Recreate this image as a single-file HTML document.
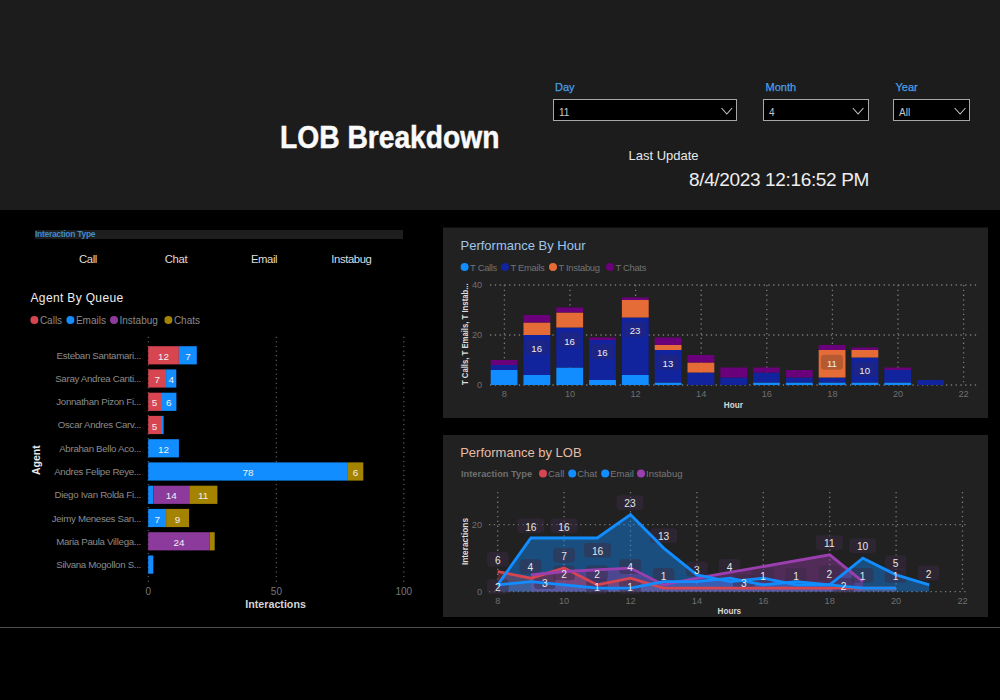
<!DOCTYPE html>
<html><head><meta charset="utf-8">
<style>
html,body{margin:0;padding:0;width:1000px;height:700px;overflow:hidden;background:#000;font-family:"Liberation Sans", sans-serif;}
.abs{position:absolute;white-space:nowrap;}
#hdr{position:absolute;left:0;top:0;width:1000px;height:210px;background:#1c1c1c;}
.dd{position:absolute;top:99px;height:20px;border:1px solid #a8a8a8;background:#000;}
.dd span{position:absolute;left:5px;top:6.5px;font-size:10px;color:#c8c8c8;}
.lbl{position:absolute;top:81px;font-size:11px;color:#4a9fe6;-webkit-text-stroke:0.25px #4a9fe6;}
svg{position:absolute;left:0;top:0;}
</style></head><body>
<div id="hdr"></div>
<div class="abs" style="left:280px;top:119.5px;font-size:31px;font-weight:bold;color:#fafafa;transform:scaleX(0.91);transform-origin:0 0;-webkit-text-stroke:0.5px #fafafa;">LOB Breakdown</div>
<div class="lbl" style="left:555px;">Day</div>
<div class="lbl" style="left:765.5px;">Month</div>
<div class="lbl" style="left:895.5px;">Year</div>
<div class="dd" style="left:553px;width:182px;"><span>11</span></div>
<div class="dd" style="left:763px;width:104px;"><span>4</span></div>
<div class="dd" style="left:893px;width:75px;"><span>All</span></div>
<div class="abs" style="left:628.5px;top:148px;font-size:13px;color:#e8e8e8;">Last Update</div>
<div class="abs" style="left:689px;top:169px;font-size:19px;letter-spacing:-0.35px;color:#eeeeee;">8/4/2023 12:16:52 PM</div>
<div class="abs" style="left:35px;top:230px;width:368px;height:8.6px;background:#1e1e1e;"></div>
<div class="abs" style="left:35px;top:228.5px;font-size:8.5px;font-weight:bold;letter-spacing:-0.3px;color:#3d8ad0;">Interaction Type</div>
<div class="abs" style="left:0;top:253px;width:88px;"></div>
<svg width="1000" height="700" viewBox="0 0 1000 700" font-family='"Liberation Sans", sans-serif'>
<g fill="none" stroke="#c8c8c8" stroke-width="1.05">
<polyline points="721.5,108 726.8,114 732.1,108"/>
<polyline points="852.8,108 858.1,114 863.4,108"/>
<polyline points="954.7,108 960.1,114 965.5,108"/>
</g>
<g fill="#dddddd" font-size="11.3" letter-spacing="-0.4" text-anchor="middle">
<text x="88" y="263">Call</text><text x="176" y="263">Chat</text><text x="264" y="263">Email</text><text x="351.4" y="263">Instabug</text>
</g>
<rect x="443" y="227.5" width="545" height="190.5" fill="#212121"/>
<rect x="443" y="435" width="545" height="182" fill="#212121"/>
<line x1="490" y1="385.0" x2="977" y2="385.0" stroke="#7a7a7a" stroke-width="1.3" stroke-dasharray="1.3 3.5"/>
<line x1="490" y1="335.0" x2="977" y2="335.0" stroke="#7a7a7a" stroke-width="1.3" stroke-dasharray="1.3 3.5"/>
<line x1="490" y1="285.0" x2="977" y2="285.0" stroke="#7a7a7a" stroke-width="1.3" stroke-dasharray="1.3 3.5"/>
<line x1="504.4" y1="285" x2="504.4" y2="385" stroke="#7a7a7a" stroke-width="1.3" stroke-dasharray="1.3 3.5"/>
<line x1="570.0" y1="285" x2="570.0" y2="385" stroke="#7a7a7a" stroke-width="1.3" stroke-dasharray="1.3 3.5"/>
<line x1="635.5999999999999" y1="285" x2="635.5999999999999" y2="385" stroke="#7a7a7a" stroke-width="1.3" stroke-dasharray="1.3 3.5"/>
<line x1="701.1999999999999" y1="285" x2="701.1999999999999" y2="385" stroke="#7a7a7a" stroke-width="1.3" stroke-dasharray="1.3 3.5"/>
<line x1="766.8" y1="285" x2="766.8" y2="385" stroke="#7a7a7a" stroke-width="1.3" stroke-dasharray="1.3 3.5"/>
<line x1="832.4" y1="285" x2="832.4" y2="385" stroke="#7a7a7a" stroke-width="1.3" stroke-dasharray="1.3 3.5"/>
<line x1="898.0" y1="285" x2="898.0" y2="385" stroke="#7a7a7a" stroke-width="1.3" stroke-dasharray="1.3 3.5"/>
<line x1="963.5999999999999" y1="285" x2="963.5999999999999" y2="385" stroke="#7a7a7a" stroke-width="1.3" stroke-dasharray="1.3 3.5"/>
<rect x="490.7" y="370.0" width="26.8" height="15.0" fill="#118DFF"/>
<rect x="490.7" y="365.0" width="26.8" height="5.0" fill="#12239E"/>
<rect x="490.7" y="360.0" width="26.8" height="5.0" fill="#6B007B"/>
<rect x="523.5" y="375.0" width="26.8" height="10.0" fill="#118DFF"/>
<rect x="523.5" y="335.0" width="26.8" height="40.0" fill="#12239E"/>
<rect x="523.5" y="322.5" width="26.8" height="12.5" fill="#E66C37"/>
<rect x="523.5" y="315.0" width="26.8" height="7.5" fill="#6B007B"/>
<rect x="556.3" y="367.5" width="26.8" height="17.5" fill="#118DFF"/>
<rect x="556.3" y="327.5" width="26.8" height="40.0" fill="#12239E"/>
<rect x="556.3" y="312.5" width="26.8" height="15.0" fill="#E66C37"/>
<rect x="556.3" y="307.5" width="26.8" height="5.0" fill="#6B007B"/>
<rect x="589.1" y="380.0" width="26.8" height="5.0" fill="#118DFF"/>
<rect x="589.1" y="340.0" width="26.8" height="40.0" fill="#12239E"/>
<rect x="589.1" y="337.5" width="26.8" height="2.5" fill="#6B007B"/>
<rect x="621.9" y="375.0" width="26.8" height="10.0" fill="#118DFF"/>
<rect x="621.9" y="317.5" width="26.8" height="57.5" fill="#12239E"/>
<rect x="621.9" y="300.0" width="26.8" height="17.5" fill="#E66C37"/>
<rect x="621.9" y="297.5" width="26.8" height="2.5" fill="#6B007B"/>
<rect x="654.7" y="382.5" width="26.8" height="2.5" fill="#118DFF"/>
<rect x="654.7" y="350.0" width="26.8" height="32.5" fill="#12239E"/>
<rect x="654.7" y="345.0" width="26.8" height="5.0" fill="#E66C37"/>
<rect x="654.7" y="337.5" width="26.8" height="7.5" fill="#6B007B"/>
<rect x="687.5" y="372.5" width="26.8" height="12.5" fill="#12239E"/>
<rect x="687.5" y="362.5" width="26.8" height="10.0" fill="#E66C37"/>
<rect x="687.5" y="355.0" width="26.8" height="7.5" fill="#6B007B"/>
<rect x="720.3" y="377.5" width="26.8" height="7.5" fill="#12239E"/>
<rect x="720.3" y="367.5" width="26.8" height="10.0" fill="#6B007B"/>
<rect x="753.1" y="382.5" width="26.8" height="2.5" fill="#118DFF"/>
<rect x="753.1" y="372.5" width="26.8" height="10.0" fill="#12239E"/>
<rect x="753.1" y="367.5" width="26.8" height="5.0" fill="#6B007B"/>
<rect x="785.9" y="382.5" width="26.8" height="2.5" fill="#118DFF"/>
<rect x="785.9" y="377.5" width="26.8" height="5.0" fill="#12239E"/>
<rect x="785.9" y="370.0" width="26.8" height="7.5" fill="#6B007B"/>
<rect x="818.7" y="382.5" width="26.8" height="2.5" fill="#118DFF"/>
<rect x="818.7" y="377.5" width="26.8" height="5.0" fill="#12239E"/>
<rect x="818.7" y="350.0" width="26.8" height="27.5" fill="#E66C37"/>
<rect x="818.7" y="345.0" width="26.8" height="5.0" fill="#6B007B"/>
<rect x="851.5" y="382.5" width="26.8" height="2.5" fill="#118DFF"/>
<rect x="851.5" y="357.5" width="26.8" height="25.0" fill="#12239E"/>
<rect x="851.5" y="350.0" width="26.8" height="7.5" fill="#E66C37"/>
<rect x="851.5" y="347.5" width="26.8" height="2.5" fill="#6B007B"/>
<rect x="884.3" y="382.5" width="26.8" height="2.5" fill="#118DFF"/>
<rect x="884.3" y="370.0" width="26.8" height="12.5" fill="#12239E"/>
<rect x="884.3" y="367.5" width="26.8" height="2.5" fill="#6B007B"/>
<rect x="917.1" y="380.0" width="26.8" height="5.0" fill="#12239E"/>
<rect x="525.7" y="339.7" width="22" height="15" rx="3.5" fill="#1c2485"/>
<text x="536.7" y="351.7" font-size="9.6" fill="#eeeeee" text-anchor="middle">16</text>
<rect x="558.5" y="332.5" width="22" height="15" rx="3.5" fill="#1c2485"/>
<text x="569.5" y="344.5" font-size="9.6" fill="#eeeeee" text-anchor="middle">16</text>
<rect x="591.3" y="344.3" width="22" height="15" rx="3.5" fill="#1c2485"/>
<text x="602.3" y="356.3" font-size="9.6" fill="#eeeeee" text-anchor="middle">16</text>
<rect x="624.1" y="321.9" width="22" height="15" rx="3.5" fill="#1c2485"/>
<text x="635.1" y="333.9" font-size="9.6" fill="#eeeeee" text-anchor="middle">23</text>
<rect x="656.9" y="354.7" width="22" height="15" rx="3.5" fill="#1c2485"/>
<text x="667.9" y="366.7" font-size="9.6" fill="#eeeeee" text-anchor="middle">13</text>
<rect x="820.9" y="354.7" width="22" height="15" rx="3.5" fill="#b55a30"/>
<text x="831.9" y="366.7" font-size="9.6" fill="#eeeeee" text-anchor="middle">11</text>
<rect x="853.7" y="361.9" width="22" height="15" rx="3.5" fill="#1c2485"/>
<text x="864.7" y="373.9" font-size="9.6" fill="#eeeeee" text-anchor="middle">10</text>
<text x="482.2" y="388.2" font-size="9.2" fill="#707070" text-anchor="end">0</text>
<text x="482.2" y="338.2" font-size="9.2" fill="#707070" text-anchor="end">20</text>
<text x="482.2" y="288.2" font-size="9.2" fill="#707070" text-anchor="end">40</text>
<text x="504.4" y="397.2" font-size="9.2" fill="#707070" text-anchor="middle">8</text>
<text x="570.0" y="397.2" font-size="9.2" fill="#707070" text-anchor="middle">10</text>
<text x="635.5999999999999" y="397.2" font-size="9.2" fill="#707070" text-anchor="middle">12</text>
<text x="701.1999999999999" y="397.2" font-size="9.2" fill="#707070" text-anchor="middle">14</text>
<text x="766.8" y="397.2" font-size="9.2" fill="#707070" text-anchor="middle">16</text>
<text x="832.4" y="397.2" font-size="9.2" fill="#707070" text-anchor="middle">18</text>
<text x="898.0" y="397.2" font-size="9.2" fill="#707070" text-anchor="middle">20</text>
<text x="963.5999999999999" y="397.2" font-size="9.2" fill="#707070" text-anchor="middle">22</text>
<text x="733.4" y="408" font-size="8.2" font-weight="bold" fill="#d8d8d8" text-anchor="middle">Hour</text>
<text transform="translate(468.2,334.2) rotate(-90) scale(0.86,1)" font-size="9" font-weight="bold" fill="#dddddd" text-anchor="middle">T Calls, T Emails, T Instab...</text>
<text x="460.5" y="250.2" font-size="13" fill="#9ec5ea">Performance By Hour</text>
<circle cx="464.6" cy="267" r="4" fill="#118DFF"/>
<text x="470.1" y="270.5" font-size="9.4" letter-spacing="-0.3" fill="#737373">T Calls</text>
<circle cx="505" cy="267" r="4" fill="#12239E"/>
<text x="510.5" y="270.5" font-size="9.4" letter-spacing="-0.3" fill="#737373">T Emails</text>
<circle cx="553" cy="267" r="4" fill="#E66C37"/>
<text x="558.5" y="270.5" font-size="9.4" letter-spacing="-0.3" fill="#737373">T Instabug</text>
<circle cx="610" cy="267" r="4" fill="#6B007B"/>
<text x="615.5" y="270.5" font-size="9.4" letter-spacing="-0.3" fill="#737373">T Chats</text>
<line x1="489" y1="591.6" x2="968" y2="591.6" stroke="#7a7a7a" stroke-width="1.3" stroke-dasharray="1.3 3.5"/>
<line x1="489" y1="524.6" x2="968" y2="524.6" stroke="#7a7a7a" stroke-width="1.3" stroke-dasharray="1.3 3.5"/>
<line x1="497.7" y1="492" x2="497.7" y2="591" stroke="#7a7a7a" stroke-width="1.3" stroke-dasharray="1.3 3.5"/>
<line x1="564.1" y1="492" x2="564.1" y2="591" stroke="#7a7a7a" stroke-width="1.3" stroke-dasharray="1.3 3.5"/>
<line x1="630.5" y1="492" x2="630.5" y2="591" stroke="#7a7a7a" stroke-width="1.3" stroke-dasharray="1.3 3.5"/>
<line x1="696.9" y1="492" x2="696.9" y2="591" stroke="#7a7a7a" stroke-width="1.3" stroke-dasharray="1.3 3.5"/>
<line x1="763.3" y1="492" x2="763.3" y2="591" stroke="#7a7a7a" stroke-width="1.3" stroke-dasharray="1.3 3.5"/>
<line x1="829.7" y1="492" x2="829.7" y2="591" stroke="#7a7a7a" stroke-width="1.3" stroke-dasharray="1.3 3.5"/>
<line x1="896.1" y1="492" x2="896.1" y2="591" stroke="#7a7a7a" stroke-width="1.3" stroke-dasharray="1.3 3.5"/>
<line x1="962.5" y1="492" x2="962.5" y2="591" stroke="#7a7a7a" stroke-width="1.3" stroke-dasharray="1.3 3.5"/>
<polygon points="497.7,591.6 497.7,584.9 530.9,538.0 564.1,538.0 597.3,538.0 630.5,514.6 663.7,548.1 696.9,574.9 730.1,581.6 763.3,578.2 796.5,584.9 829.7,584.9 862.9,558.1 896.1,574.9 929.3,584.9 929.3,591.6" fill="#118DFF" fill-opacity="0.42"/>
<polygon points="530.9,591.6 530.9,574.9 564.1,571.5 630.5,568.1 663.7,584.9 696.9,578.2 829.7,554.8 862.9,581.6 862.9,591.6" fill="#9B3FB0" fill-opacity="0.4"/>
<polygon points="497.7,591.6 497.7,571.5 530.9,578.2 564.1,568.1 597.3,584.9 630.5,578.2 663.7,588.2 696.9,588.2 730.1,588.2 763.3,588.2 796.5,588.2 829.7,588.2 862.9,588.2 896.1,588.2 896.1,591.6" fill="#D64550" fill-opacity="0.3"/>
<polygon points="497.7,591.6 497.7,584.9 530.9,581.6 564.1,584.9 597.3,588.2 630.5,588.2 663.7,581.6 696.9,581.6 730.1,578.2 763.3,584.9 796.5,581.6 829.7,584.9 862.9,588.2 896.1,588.2 896.1,591.6" fill="#118DFF" fill-opacity="0.3"/>
<rect x="487.1" y="552.0" width="21.6" height="14.7" rx="3.5" fill="#3a2a42" fill-opacity="0.5"/>
<rect x="519.6" y="559.2" width="21.6" height="14.7" rx="3.5" fill="#3a2a42" fill-opacity="0.5"/>
<rect x="553.2" y="548.0" width="21.6" height="14.7" rx="3.5" fill="#3a2a42" fill-opacity="0.5"/>
<rect x="553.2" y="565.6" width="21.6" height="14.7" rx="3.5" fill="#3a2a42" fill-opacity="0.5"/>
<rect x="586.2" y="565.6" width="21.6" height="14.7" rx="3.5" fill="#3a2a42" fill-opacity="0.5"/>
<rect x="584.1" y="542.9" width="27" height="14.7" rx="3.5" fill="#3a2a42" fill-opacity="0.5"/>
<rect x="619.2" y="559.2" width="21.6" height="14.7" rx="3.5" fill="#3a2a42" fill-opacity="0.5"/>
<rect x="619.2" y="579.2" width="21.6" height="14.7" rx="3.5" fill="#3a2a42" fill-opacity="0.5"/>
<rect x="586.2" y="579.2" width="21.6" height="14.7" rx="3.5" fill="#3a2a42" fill-opacity="0.5"/>
<rect x="517.3" y="518.4" width="27" height="14.7" rx="3.5" fill="#3a2a42" fill-opacity="0.5"/>
<rect x="550.5" y="518.4" width="27" height="14.7" rx="3.5" fill="#3a2a42" fill-opacity="0.5"/>
<rect x="616.5" y="495.2" width="27" height="14.7" rx="3.5" fill="#3a2a42" fill-opacity="0.5"/>
<rect x="650.1" y="528.3" width="27" height="14.7" rx="3.5" fill="#3a2a42" fill-opacity="0.5"/>
<rect x="652.8" y="568.0" width="21.6" height="14.7" rx="3.5" fill="#3a2a42" fill-opacity="0.5"/>
<rect x="686.1" y="561.6" width="21.6" height="14.7" rx="3.5" fill="#3a2a42" fill-opacity="0.5"/>
<rect x="718.7" y="558.9" width="21.6" height="14.7" rx="3.5" fill="#3a2a42" fill-opacity="0.5"/>
<rect x="733.1" y="574.4" width="21.6" height="14.7" rx="3.5" fill="#3a2a42" fill-opacity="0.5"/>
<rect x="752.3" y="568.0" width="21.6" height="14.7" rx="3.5" fill="#3a2a42" fill-opacity="0.5"/>
<rect x="785.2" y="568.0" width="21.6" height="14.7" rx="3.5" fill="#3a2a42" fill-opacity="0.5"/>
<rect x="815.9" y="535.2" width="27" height="14.7" rx="3.5" fill="#3a2a42" fill-opacity="0.5"/>
<rect x="818.6" y="565.6" width="21.6" height="14.7" rx="3.5" fill="#3a2a42" fill-opacity="0.5"/>
<rect x="849.1" y="538.2" width="27" height="14.7" rx="3.5" fill="#3a2a42" fill-opacity="0.5"/>
<rect x="851.8" y="568.0" width="21.6" height="14.7" rx="3.5" fill="#3a2a42" fill-opacity="0.5"/>
<rect x="884.8" y="555.2" width="21.6" height="14.7" rx="3.5" fill="#3a2a42" fill-opacity="0.5"/>
<rect x="884.8" y="568.0" width="21.6" height="14.7" rx="3.5" fill="#3a2a42" fill-opacity="0.5"/>
<rect x="917.8" y="565.6" width="21.6" height="14.7" rx="3.5" fill="#3a2a42" fill-opacity="0.5"/>
<rect x="832.8" y="578.0" width="21.6" height="14.7" rx="3.5" fill="#3a2a42" fill-opacity="0.5"/>
<rect x="487.1" y="579.2" width="21.6" height="14.7" rx="3.5" fill="#3a2a42" fill-opacity="0.5"/>
<rect x="534.0" y="574.4" width="21.6" height="14.7" rx="3.5" fill="#3a2a42" fill-opacity="0.5"/>
<polyline points="497.7,571.5 530.9,578.2 564.1,568.1 597.3,584.9 630.5,578.2 663.7,588.2 696.9,588.2 730.1,588.2 763.3,588.2 796.5,588.2 829.7,588.2 862.9,588.2 896.1,588.2" fill="none" stroke="#D64550" stroke-width="2.8" stroke-linejoin="miter"/>
<polyline points="530.9,574.9 564.1,571.5 630.5,568.1 663.7,584.9 696.9,578.2 829.7,554.8 862.9,581.6" fill="none" stroke="#9B3FB0" stroke-width="2.8" stroke-linejoin="miter"/>
<polyline points="497.7,584.9 530.9,581.6 564.1,584.9 597.3,588.2 630.5,588.2 663.7,581.6 696.9,581.6 730.1,578.2 763.3,584.9 796.5,581.6 829.7,584.9 862.9,588.2 896.1,588.2" fill="none" stroke="#118DFF" stroke-width="2.8" stroke-linejoin="miter"/>
<polyline points="497.7,584.9 530.9,538.0 564.1,538.0 597.3,538.0 630.5,514.6 663.7,548.1 696.9,574.9 730.1,581.6 763.3,578.2 796.5,584.9 829.7,584.9 862.9,558.1 896.1,574.9 929.3,584.9" fill="none" stroke="#118DFF" stroke-width="2.9" stroke-linejoin="miter"/>
<text x="497.9" y="564.1" font-size="10.2" fill="#e6e6e6" text-anchor="middle">6</text>
<text x="530.4" y="571.3" font-size="10.2" fill="#e6e6e6" text-anchor="middle">4</text>
<text x="564.0" y="560.1" font-size="10.2" fill="#e6e6e6" text-anchor="middle">7</text>
<text x="564.0" y="577.7" font-size="10.2" fill="#e6e6e6" text-anchor="middle">2</text>
<text x="597.0" y="577.7" font-size="10.2" fill="#e6e6e6" text-anchor="middle">2</text>
<text x="597.6" y="555.0" font-size="10.2" fill="#e6e6e6" text-anchor="middle">16</text>
<text x="630.0" y="571.3" font-size="10.2" fill="#e6e6e6" text-anchor="middle">4</text>
<text x="630.0" y="591.3" font-size="10.2" fill="#e6e6e6" text-anchor="middle">1</text>
<text x="597.0" y="591.3" font-size="10.2" fill="#e6e6e6" text-anchor="middle">1</text>
<text x="530.8" y="530.5" font-size="10.2" fill="#e6e6e6" text-anchor="middle">16</text>
<text x="564.0" y="530.5" font-size="10.2" fill="#e6e6e6" text-anchor="middle">16</text>
<text x="630.0" y="507.3" font-size="10.2" fill="#e6e6e6" text-anchor="middle">23</text>
<text x="663.6" y="540.4" font-size="10.2" fill="#e6e6e6" text-anchor="middle">13</text>
<text x="663.6" y="580.1" font-size="10.2" fill="#e6e6e6" text-anchor="middle">1</text>
<text x="696.9" y="573.7" font-size="10.2" fill="#e6e6e6" text-anchor="middle">3</text>
<text x="729.5" y="571.0" font-size="10.2" fill="#e6e6e6" text-anchor="middle">4</text>
<text x="743.9" y="586.5" font-size="10.2" fill="#e6e6e6" text-anchor="middle">3</text>
<text x="763.1" y="580.1" font-size="10.2" fill="#e6e6e6" text-anchor="middle">1</text>
<text x="796.0" y="580.1" font-size="10.2" fill="#e6e6e6" text-anchor="middle">1</text>
<text x="829.4" y="547.3" font-size="10.2" fill="#e6e6e6" text-anchor="middle">11</text>
<text x="829.4" y="577.7" font-size="10.2" fill="#e6e6e6" text-anchor="middle">2</text>
<text x="862.6" y="550.3" font-size="10.2" fill="#e6e6e6" text-anchor="middle">10</text>
<text x="862.6" y="580.1" font-size="10.2" fill="#e6e6e6" text-anchor="middle">1</text>
<text x="895.6" y="567.3" font-size="10.2" fill="#e6e6e6" text-anchor="middle">5</text>
<text x="895.6" y="580.1" font-size="10.2" fill="#e6e6e6" text-anchor="middle">1</text>
<text x="928.6" y="577.7" font-size="10.2" fill="#e6e6e6" text-anchor="middle">2</text>
<text x="843.6" y="590.1" font-size="10.2" fill="#e6e6e6" text-anchor="middle">2</text>
<text x="497.9" y="591.3" font-size="10.2" fill="#e6e6e6" text-anchor="middle">2</text>
<text x="544.8" y="586.5" font-size="10.2" fill="#e6e6e6" text-anchor="middle">3</text>
<text x="482" y="594.8000000000001" font-size="9.2" fill="#707070" text-anchor="end">0</text>
<text x="482" y="527.8000000000001" font-size="9.2" fill="#707070" text-anchor="end">20</text>
<text x="497.7" y="604.2" font-size="9.2" fill="#707070" text-anchor="middle">8</text>
<text x="564.1" y="604.2" font-size="9.2" fill="#707070" text-anchor="middle">10</text>
<text x="630.5" y="604.2" font-size="9.2" fill="#707070" text-anchor="middle">12</text>
<text x="696.9" y="604.2" font-size="9.2" fill="#707070" text-anchor="middle">14</text>
<text x="763.3" y="604.2" font-size="9.2" fill="#707070" text-anchor="middle">16</text>
<text x="829.7" y="604.2" font-size="9.2" fill="#707070" text-anchor="middle">18</text>
<text x="896.1" y="604.2" font-size="9.2" fill="#707070" text-anchor="middle">20</text>
<text x="962.5" y="604.2" font-size="9.2" fill="#707070" text-anchor="middle">22</text>
<text x="729.3" y="614.3" font-size="8.2" font-weight="bold" fill="#d8d8d8" text-anchor="middle">Hours</text>
<text transform="translate(468.3,541.5) rotate(-90)" font-size="8.3" font-weight="bold" fill="#dddddd" text-anchor="middle">Interactions</text>
<text x="460.2" y="457.2" font-size="13" fill="#e6bba5">Performance by LOB</text>
<text x="461" y="476.8" font-size="9.3" font-weight="bold" fill="#6f6f6f">Interaction Type</text>
<circle cx="543" cy="473.4" r="4" fill="#D64550"/>
<text x="548" y="476.8" font-size="9.5" fill="#777">Call</text>
<circle cx="572.2" cy="473.4" r="4" fill="#118DFF"/>
<text x="577.2" y="476.8" font-size="9.5" fill="#777">Chat</text>
<circle cx="605.2" cy="473.4" r="4" fill="#118DFF"/>
<text x="610.2" y="476.8" font-size="9.5" fill="#777">Email</text>
<circle cx="641" cy="473.4" r="4" fill="#9B3FB0"/>
<text x="646" y="476.8" font-size="9.5" fill="#777">Instabug</text>
<line x1="148.4" y1="336.7" x2="148.4" y2="583" stroke="#555555" stroke-width="1.3" stroke-dasharray="1.2 3.4"/>
<line x1="276.4" y1="336.7" x2="276.4" y2="583" stroke="#555555" stroke-width="1.3" stroke-dasharray="1.2 3.4"/>
<line x1="403.8" y1="336.7" x2="403.8" y2="583" stroke="#555555" stroke-width="1.3" stroke-dasharray="1.2 3.4"/>
<rect x="148.2" y="346.2" width="30.7" height="18.2" fill="#D64550"/>
<text x="163.6" y="359.8" font-size="9.9" fill="#f0f0f0" text-anchor="middle">12</text>
<rect x="178.9" y="346.2" width="17.9" height="18.2" fill="#118DFF"/>
<text x="187.9" y="359.8" font-size="9.9" fill="#f0f0f0" text-anchor="middle">7</text>
<text x="141" y="358.7" font-size="9.7" letter-spacing="-0.3" fill="#8c8c8c" text-anchor="end">Esteban Santamari...</text>
<rect x="148.2" y="369.4" width="17.9" height="18.2" fill="#D64550"/>
<text x="157.2" y="383.1" font-size="9.9" fill="#f0f0f0" text-anchor="middle">7</text>
<rect x="166.1" y="369.4" width="10.2" height="18.2" fill="#118DFF"/>
<text x="171.2" y="383.1" font-size="9.9" fill="#f0f0f0" text-anchor="middle">4</text>
<text x="141" y="381.9" font-size="9.7" letter-spacing="-0.3" fill="#8c8c8c" text-anchor="end">Saray Andrea Canti...</text>
<rect x="148.2" y="392.7" width="12.8" height="18.2" fill="#D64550"/>
<text x="154.6" y="406.3" font-size="9.9" fill="#f0f0f0" text-anchor="middle">5</text>
<rect x="161.0" y="392.7" width="15.4" height="18.2" fill="#118DFF"/>
<text x="168.7" y="406.3" font-size="9.9" fill="#f0f0f0" text-anchor="middle">6</text>
<text x="141" y="405.2" font-size="9.7" letter-spacing="-0.3" fill="#8c8c8c" text-anchor="end">Jonnathan Pizon Fi...</text>
<rect x="148.2" y="415.9" width="12.8" height="18.2" fill="#D64550"/>
<text x="154.6" y="429.6" font-size="9.9" fill="#f0f0f0" text-anchor="middle">5</text>
<rect x="161.0" y="415.9" width="2.6" height="18.2" fill="#118DFF"/>
<text x="141" y="428.4" font-size="9.7" letter-spacing="-0.3" fill="#8c8c8c" text-anchor="end">Oscar Andres Carv...</text>
<rect x="148.2" y="439.2" width="30.7" height="18.2" fill="#118DFF"/>
<text x="163.6" y="452.8" font-size="9.9" fill="#f0f0f0" text-anchor="middle">12</text>
<text x="141" y="451.7" font-size="9.7" letter-spacing="-0.3" fill="#8c8c8c" text-anchor="end">Abrahan Bello Aco...</text>
<rect x="148.2" y="462.4" width="199.7" height="18.2" fill="#118DFF"/>
<text x="248.0" y="476.1" font-size="9.9" fill="#f0f0f0" text-anchor="middle">78</text>
<rect x="347.9" y="462.4" width="15.4" height="18.2" fill="#A38300"/>
<text x="355.6" y="476.1" font-size="9.9" fill="#f0f0f0" text-anchor="middle">6</text>
<text x="141" y="474.9" font-size="9.7" letter-spacing="-0.3" fill="#8c8c8c" text-anchor="end">Andres Felipe Reye...</text>
<rect x="148.2" y="485.7" width="5.1" height="18.2" fill="#118DFF"/>
<rect x="153.3" y="485.7" width="35.8" height="18.2" fill="#8C3A9C"/>
<text x="171.2" y="499.3" font-size="9.9" fill="#f0f0f0" text-anchor="middle">14</text>
<rect x="189.2" y="485.7" width="28.2" height="18.2" fill="#A38300"/>
<text x="203.2" y="499.3" font-size="9.9" fill="#f0f0f0" text-anchor="middle">11</text>
<text x="141" y="498.2" font-size="9.7" letter-spacing="-0.3" fill="#8c8c8c" text-anchor="end">Diego Ivan Rolda Fi...</text>
<rect x="148.2" y="508.9" width="17.9" height="18.2" fill="#118DFF"/>
<text x="157.2" y="522.5" font-size="9.9" fill="#f0f0f0" text-anchor="middle">7</text>
<rect x="166.1" y="508.9" width="23.0" height="18.2" fill="#A38300"/>
<text x="177.6" y="522.5" font-size="9.9" fill="#f0f0f0" text-anchor="middle">9</text>
<text x="141" y="521.5" font-size="9.7" letter-spacing="-0.3" fill="#8c8c8c" text-anchor="end">Jeimy Meneses San...</text>
<rect x="148.2" y="532.2" width="61.4" height="18.2" fill="#8C3A9C"/>
<text x="178.9" y="545.8" font-size="9.9" fill="#f0f0f0" text-anchor="middle">24</text>
<rect x="209.6" y="532.2" width="5.1" height="18.2" fill="#A38300"/>
<text x="141" y="544.7" font-size="9.7" letter-spacing="-0.3" fill="#8c8c8c" text-anchor="end">Maria Paula Villega...</text>
<rect x="148.2" y="555.5" width="5.1" height="18.2" fill="#118DFF"/>
<text x="141" y="568.0" font-size="9.7" letter-spacing="-0.3" fill="#8c8c8c" text-anchor="end">Silvana Mogollon S...</text>
<text x="148.4" y="595.3" font-size="10" fill="#777" text-anchor="middle">0</text>
<text x="276.4" y="595.3" font-size="10" fill="#777" text-anchor="middle">50</text>
<text x="403.8" y="595.3" font-size="10" fill="#777" text-anchor="middle">100</text>
<text x="275.6" y="608.2" font-size="10.7" font-weight="bold" fill="#d4d4d4" text-anchor="middle">Interactions</text>
<text transform="translate(39.8,460.2) rotate(-90)" font-size="10.5" font-weight="bold" fill="#e8e8e8" text-anchor="middle">Agent</text>
<text x="30.5" y="302" font-size="12" letter-spacing="0.35" fill="#eeeeee">Agent By Queue</text>
<circle cx="34.4" cy="320" r="4" fill="#D64550"/>
<text x="39.9" y="323.6" font-size="10" fill="#8a8a8a">Calls</text>
<circle cx="70.4" cy="320" r="4" fill="#118DFF"/>
<text x="75.9" y="323.6" font-size="10" fill="#8a8a8a">Emails</text>
<circle cx="114" cy="320" r="4" fill="#8C3A9C"/>
<text x="119.5" y="323.6" font-size="10" fill="#8a8a8a">Instabug</text>
<circle cx="168.4" cy="320" r="4" fill="#A38300"/>
<text x="173.9" y="323.6" font-size="10" fill="#8a8a8a">Chats</text>
<rect x="0" y="627" width="1000" height="1" fill="#505050"/>
</svg>
</body></html>
